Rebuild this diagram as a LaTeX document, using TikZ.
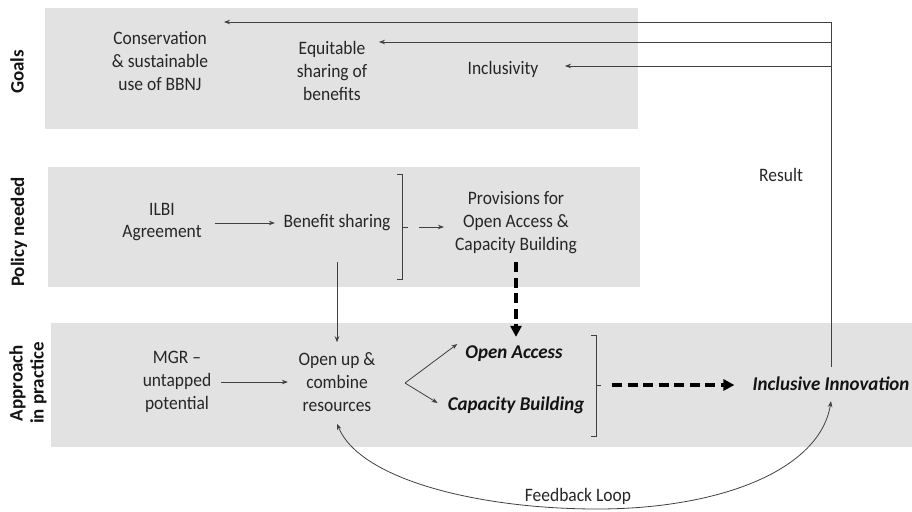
\documentclass[tikz,border=0pt]{standalone}
\usepackage{fontspec}
\setmainfont{Carlito}[FakeStretch=0.92]
\newfontfamily\keyfont{Carlito}[FakeStretch=0.97]
\newfontfamily\sidefont{Carlito}
\usetikzlibrary{arrows.meta,calc}
\definecolor{boxgray}{HTML}{E2E2E2}
\definecolor{txt}{HTML}{262626}
\definecolor{lnc}{HTML}{404040}
\begin{document}
\begin{tikzpicture}[x=1pt,y=-1pt,
  font=\fontsize{19}{23}\selectfont, text=txt,
  band/.style={fill=boxgray, draw=none},
  lbl/.style={align=center, inner sep=0pt},
  key/.style={font=\keyfont\fontsize{19.5}{23}\selectfont\bfseries\itshape, text=black!92, inner sep=0pt},
  side/.style={font=\sidefont\fontsize{19}{21}\selectfont\bfseries, text=black!92, rotate=90, align=center, inner sep=0pt},
  lnk/.style={draw=lnc, line width=0.8pt},
  arr/.style={draw=lnc, line width=0.8pt, -{Stealth[length=6pt,width=4.5pt]}},
  bigdash/.style={draw=black, line width=3.6pt, dash pattern=on 10pt off 5.5pt, -{Triangle[length=11pt,width=11pt]}}
]
\useasboundingbox (0,0) rectangle (912,511);
% bands
\fill[band] (45,8) rectangle (638,129);
\fill[band] (48,167) rectangle (640,287);
\fill[band] (51,323) rectangle (912,447);

% side labels
\node[side] (gl) at (17,72) {Goals};
\node[side] (pl) at (19,232) {Policy needed};
\node[side] (al) at (28,383) {Approach\\in practice};

% goals
\node[lbl] (cons) at (160,61) {Conservation\\\& sustainable\\use of BBNJ};
\node[lbl] (eq) at (332,71) {Equitable\\sharing of\\benefits};
\node[lbl] (incl) at (503,69) {Inclusivity};

% policy
\node[lbl, font=\fontsize{19}{21.5}\selectfont] (ilbi) at (162,222) {ILBI\\Agreement};
\node[lbl] (ben) at (337,223) {Benefit sharing};
\node[lbl] (prov) at (516,223) {Provisions for\\Open Access \&\\Capacity Building};
\node[lbl] (res) at (781,175) {Result};

% approach
\node[lbl] (mgr) at (177,382) {MGR –\\untapped\\potential};
\node[lbl] (open) at (337,382) {Open up \&\\combine\\resources};
\node[key] (oa) at (514,354) {Open Access};
\node[key] (cb) at (516,405) {Capacity Building};
\node[key] (inno) at (831,384) {Inclusive Innovation};
\node[lbl] (fb) at (578,496) {Feedback Loop};

% result lines
\coordinate (vtop) at (831,22);
\coordinate (j2) at (831,42);
\coordinate (j3) at (831,66);
\coordinate (t1) at (224,22);
\coordinate (t2) at (379,42);
\coordinate (t3) at (565,66);
\draw[lnk] ([yshift=10pt]inno.north) -- (vtop);
\draw[arr] (vtop) -- (t1);
\draw[arr] (j2) -- (t2);
\draw[arr] (j3) -- (t3);

% policy connectors
\draw[arr, shorten <=13pt, shorten >=8.5pt] (ilbi.east |- ben) -- (ben.west);
\draw[lnk] (397,174) -- (402,174) -- (402,279) -- (397,279);
\coordinate (bk1) at (408,227);
\draw[lnk] (402,227) -- (bk1);
\draw[arr, shorten <=11pt, shorten >=11pt] (bk1) -- (bk1 -| prov.west);
\draw[arr, shorten <=31pt, shorten >=10pt] (ben.south) -- (ben.south |- open.north);
\draw[bigdash, shorten <=8pt, shorten >=9pt] (prov.south) -- (prov.south |- oa.north);

% approach connectors
\draw[arr, shorten <=10pt, shorten >=10.5pt] (mgr.east |- open.west) -- (open.west);
\coordinate (fork) at (405,383);
\draw[arr] (fork) -- ($(oa.west)+(-8,-10)$);
\draw[arr] (fork) -- ($(cb.west)+(-10,-2)$);
\draw[lnk] (591,335) -- (596,335) -- (596,436) -- (591,436);
\coordinate (bk2) at (601,385);
\draw[lnk] (596,385) -- (bk2);
\draw[bigdash, shorten <=11pt, shorten >=18pt] (bk2) -- (bk2 -| inno.west);

% feedback loop
\draw[draw=lnc, line width=0.8pt, {Stealth[length=6pt,width=4.5pt]}-{Stealth[length=6pt,width=4.5pt]}]
  ($(open.south)+(0,12)$) .. controls (360,480) and (480,509) .. (597,509)
  .. controls (720,509) and (820,470) .. ($(inno.south)+(0,10)$);
\end{tikzpicture}
\end{document}
